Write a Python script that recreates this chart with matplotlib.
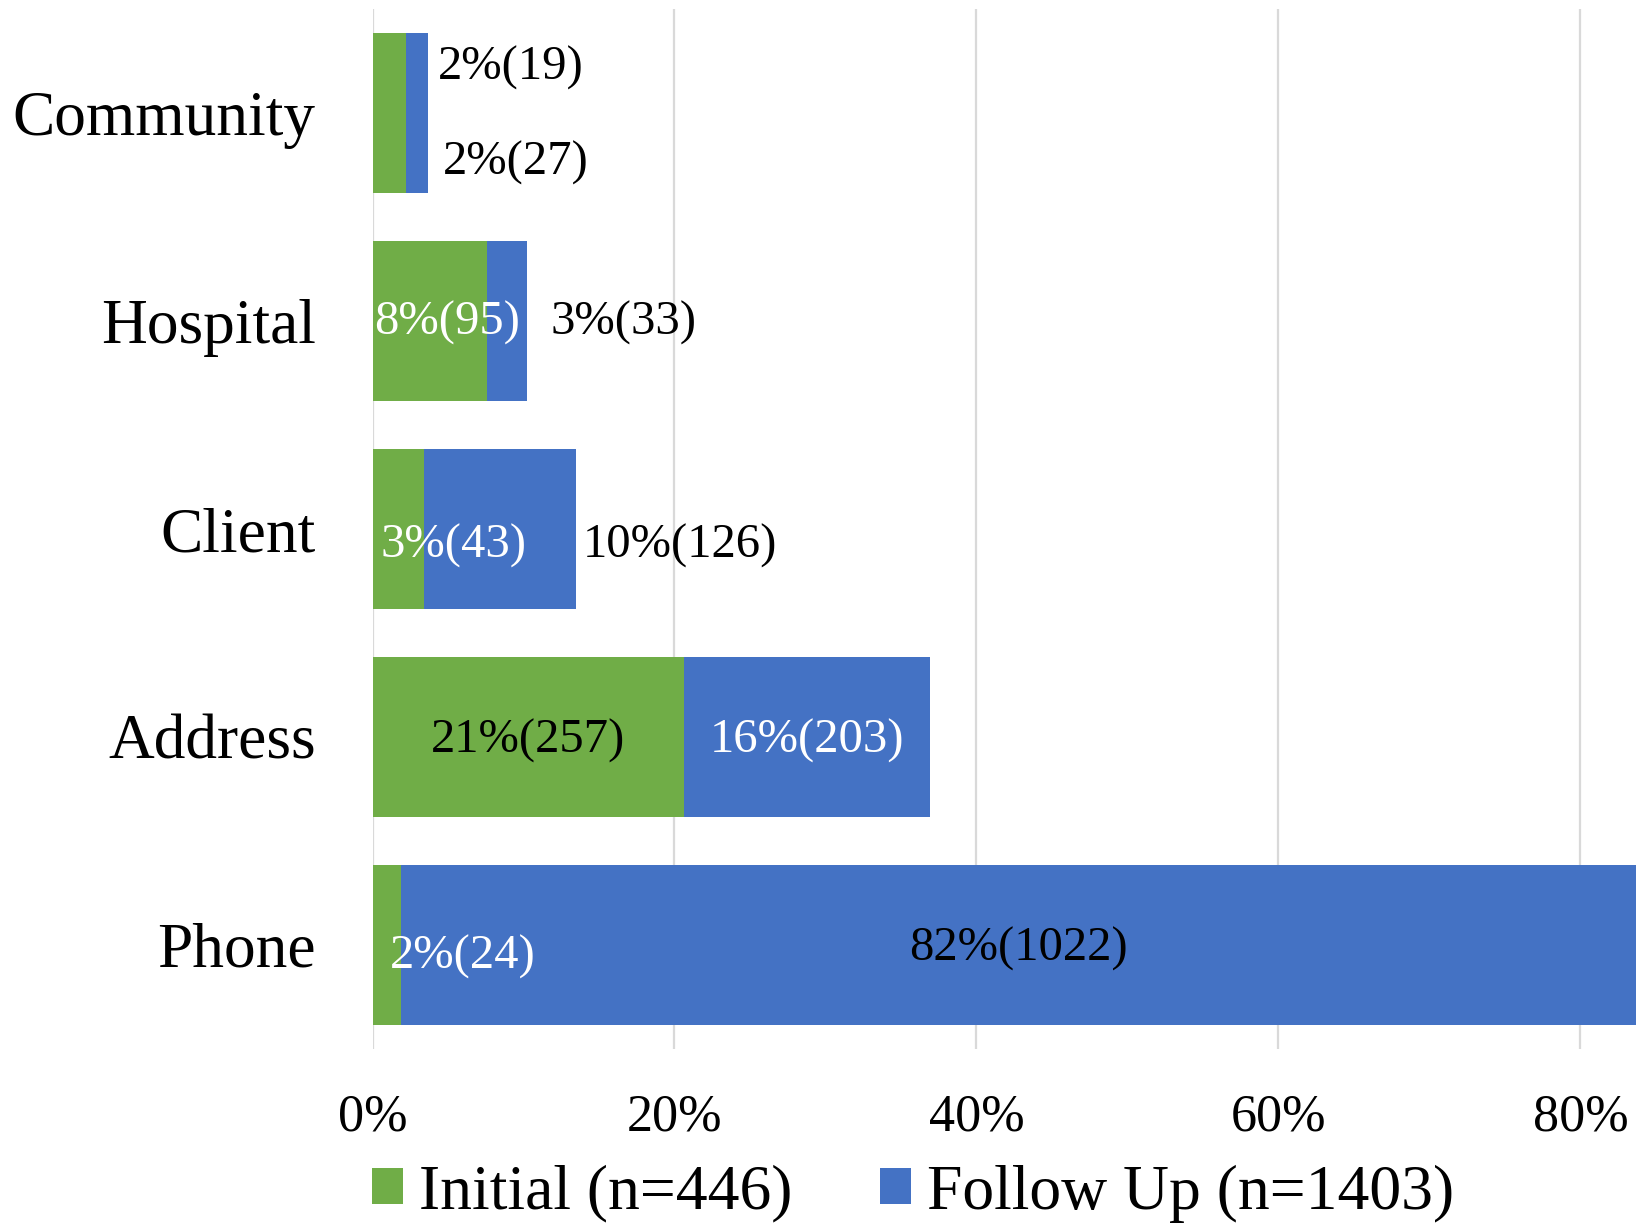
import matplotlib
matplotlib.use('Agg')
from matplotlib import pyplot as plt
from matplotlib.patches import Patch

plt.rcParams['font.family'] = ['Liberation Serif', 'DejaVu Serif']

# data: share of records (%) and counts per source
categories = ['Community', 'Hospital', 'Client', 'Address', 'Phone']
initial_pct = [2.2, 7.6, 3.4, 20.6, 1.9]
initial_n = [27, 95, 43, 257, 24]
follow_pct = [1.5, 2.6, 10.1, 16.3, 81.8]
follow_n = [19, 33, 126, 203, 1022]
x_ticks = [0, 20, 40, 60, 80]

GREEN = '#70AD47'
BLUE = '#4472C4'

# label placement: (x in %, or None to centre in segment), y shift, colour
init_lab = [(4.67, 0.24, 'black'), (0.1, 0.01, 'white'), (0.56, 0.08, 'white'),
            (None, 0.02, 'black'), (1.16, 0.06, 'white')]
foll_lab = [(4.34, -0.22, 'black'), (11.8, 0.01, 'black'), (13.9, 0.08, 'black'),
            (None, 0.02, 'white'), (None, 0.02, 'black')]

fig = plt.figure(figsize=(16.36, 12.23), dpi=100)
ax = fig.add_axes([0.2277, 0.1425, 0.7723, 0.8499])

y = range(len(categories))
ax.barh(y, initial_pct, height=0.77, color=GREEN, zorder=2)
ax.barh(y, follow_pct, left=initial_pct, height=0.77, color=BLUE, zorder=2)

def put_label(i, left, width, pct, n, spec):
    x, dy, col = spec
    text = '{:.0f}%({})'.format(pct, n)
    if x is None:
        ax.text(left + width / 2, i + dy, text, ha='center', va='center',
                fontsize=35, color=col, zorder=3)
    else:
        ax.text(x, i + dy, text, ha='left', va='center',
                fontsize=35, color=col, zorder=3)

for i in y:
    put_label(i, 0, initial_pct[i], initial_pct[i], initial_n[i], init_lab[i])
    put_label(i, initial_pct[i], follow_pct[i], follow_pct[i], follow_n[i], foll_lab[i])

ax.set_xlim(0, 83.68)
ax.set_ylim(4.5, -0.5)
ax.set_yticks(list(y))
ax.set_yticklabels(categories, fontsize=45.6)
ax.set_xticks(x_ticks)
ax.set_xticklabels(['{}%'.format(t) for t in x_ticks], fontsize=37.5)
ax.tick_params(axis='y', length=0, pad=41)
ax.tick_params(axis='x', length=0, pad=32)
ax.grid(axis='x', color='#d9d9d9', linewidth=1.6, zorder=0)
ax.set_axisbelow(True)
for s in ax.spines.values():
    s.set_visible(False)

handles = [Patch(facecolor=GREEN, label='Initial (n=446)'),
           Patch(facecolor=BLUE, label='Follow Up (n=1403)')]
fig.legend(handles=handles, loc='center left', bbox_to_anchor=(0.2274, 0.024),
           ncol=2, frameon=False, fontsize=45.8, borderpad=0, borderaxespad=0,
           handlelength=0.49, handleheight=0.49, handletextpad=0.25,
           columnspacing=1.37)

fig.savefig('out.png', dpi=100)
